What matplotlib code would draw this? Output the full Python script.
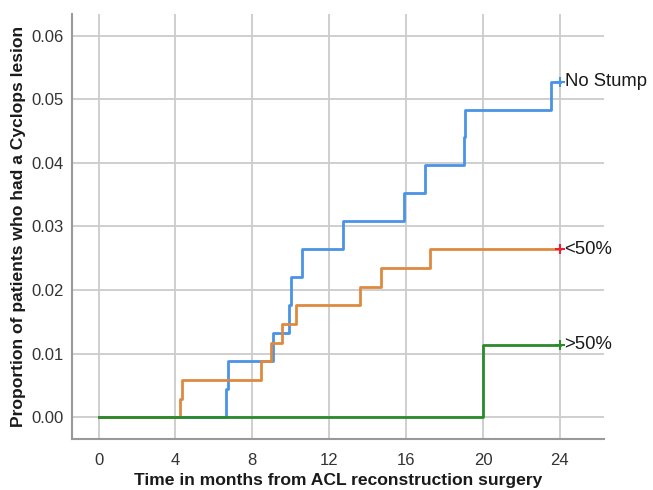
import matplotlib
matplotlib.use("Agg")
import matplotlib.pyplot as plt

plt.rcParams["font.family"] = ["Liberation Sans", "DejaVu Sans"]

# Data
nostump_t = [0, 6.62, 6.72, 9.09, 9.90, 10.02, 10.57, 12.74, 15.87, 17.0, 18.99, 19.08, 23.54, 24.0]
nostump_y = [0, 0.0044, 0.0088, 0.0132, 0.0176, 0.0220, 0.0264, 0.0308, 0.0352, 0.0396, 0.0440, 0.0484, 0.0528, 0.0528]
lt50_t = [0, 4.22, 4.35, 8.45, 8.97, 9.53, 10.26, 13.6, 14.72, 17.25, 24.0]
lt50_y = [0, 0.0029, 0.0059, 0.0088, 0.0117, 0.0147, 0.0176, 0.0205, 0.0235, 0.0264, 0.0264]
gt50_t = [0, 20.0, 24.0]
gt50_y = [0, 0.0114, 0.0114]

series_names = ["No Stump", "<50%", ">50%"]
x_ticks = [0, 4, 8, 12, 16, 20, 24]
y_ticks = [0.00, 0.01, 0.02, 0.03, 0.04, 0.05, 0.06]

blue = "#4b93e6"
orange = "#de8a3e"
green = "#2b8a2b"

fig = plt.figure(figsize=(6.53, 4.90), dpi=100)
ax = fig.add_axes([0.110, 0.104, 0.815, 0.867])

grid_c = "#cccccc"
for xv in x_ticks:
    ax.axvline(xv, color=grid_c, lw=1.3, zorder=0)
for yv in y_ticks:
    ax.axhline(yv, color=grid_c, lw=1.3, zorder=0)

ax.step(nostump_t, nostump_y, where="post", color=blue, lw=2.0, zorder=3)
ax.step(lt50_t, lt50_y, where="post", color=orange, lw=2.0, zorder=4)
ax.step(gt50_t, gt50_y, where="post", color=green, lw=2.0, zorder=5)

# censor markers
ax.plot([nostump_t[-1]], [nostump_y[-1]], marker="+", color=blue, ms=7, mew=1.5, zorder=6)
ax.plot([lt50_t[-1]], [lt50_y[-1]], marker="+", color="#e8203a", ms=7, mew=1.5, zorder=6)
ax.plot([gt50_t[-1]], [gt50_y[-1]], marker="+", color=green, ms=7, mew=1.5, zorder=6)

for name, yv in zip(series_names, [nostump_y[-1], lt50_y[-1], gt50_y[-1]]):
    ax.text(24.25, yv, name, fontsize=13.3, va="center", ha="left", color="#1a1a1a")

ax.set_xlim(-1.39, 26.3)
ax.set_ylim(-0.00346, 0.0634)
ax.set_xticks(x_ticks)
ax.set_yticks(y_ticks)
ax.set_yticklabels([f"{v:.2f}" for v in y_ticks])
ax.tick_params(axis="y", length=0, labelsize=12, labelcolor="#333333", pad=6)
ax.tick_params(axis="x", length=0, labelsize=12, labelcolor="#333333", pad=10)

for s in ["top", "right"]:
    ax.spines[s].set_visible(False)
for s in ["left", "bottom"]:
    ax.spines[s].set_color("#999999")
    ax.spines[s].set_linewidth(1.5)

ax.set_xlabel("Time in months from ACL reconstruction surgery", fontsize=12.6, fontweight="bold", labelpad=4, color="#1a1a1a")
ax.set_ylabel("Proportion of patients who had a Cyclops lesion", fontsize=12.6, fontweight="bold", labelpad=4, color="#1a1a1a")

fig.savefig("out.png", dpi=100)
